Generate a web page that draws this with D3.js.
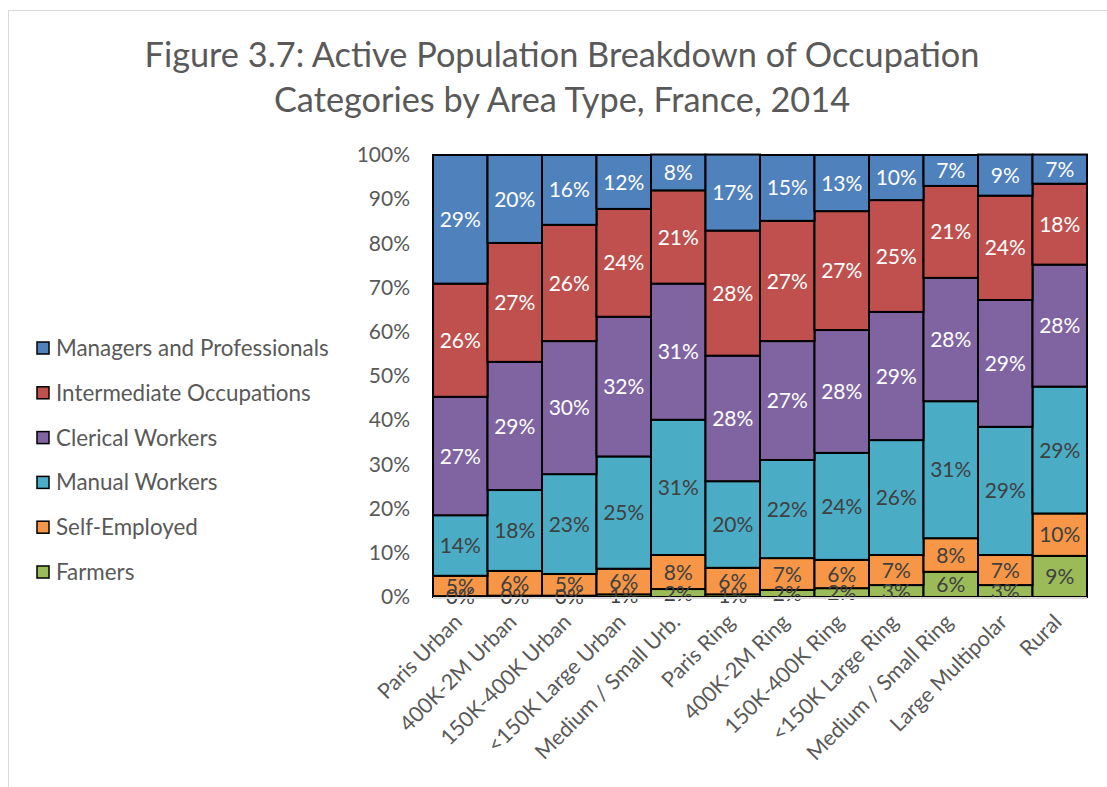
<!DOCTYPE html>
<html><head><meta charset="utf-8">
<script src="https://cdn.jsdelivr.net/npm/d3@7"></script>
<style>body{margin:0;background:#fff}svg{display:block}text{font-family:Lato,"Open Sans",sans-serif}</style>
</head><body><svg id="c" width="1107" height="787"></svg>
<script>
const categories = ["Paris Urban","400K-2M Urban","150K-400K Urban","<150K Large Urban","Medium / Small Urb.","Paris Ring","400K-2M Ring","150K-400K Ring","<150K Large Ring","Medium / Small Ring","Large Multipolar","Rural"];
const seriesNames = ["Farmers","Self-Employed","Manual Workers","Clerical Workers","Intermediate Occupations","Managers and Professionals"];
const farmers      = [0.2, 0.3, 0.3, 0.6, 1.8, 0.6, 1.6, 2.0, 2.7, 5.7, 2.7, 9.3];
const selfEmployed = [4.6, 5.6, 4.9, 5.8, 7.7, 6.0, 7.2, 6.4, 6.8, 7.6, 6.8, 9.6];
const manual       = [13.7, 18.3, 22.6, 25.4, 30.6, 19.6, 22.2, 24.2, 26.0, 31.0, 29.0, 28.7];
const clerical     = [26.8, 29.0, 30.1, 31.6, 30.8, 28.4, 26.9, 27.8, 29.0, 27.9, 28.7, 27.6];
const intermediate = [25.6, 26.9, 26.3, 24.4, 21.1, 28.3, 27.2, 26.9, 25.3, 20.8, 23.6, 18.3];
const managers     = [29.1, 19.9, 15.8, 12.2, 8.1, 17.2, 14.9, 12.7, 10.2, 7.0, 9.3, 6.6];
const yTicks = [0,10,20,30,40,50,60,70,80,90,100];
const titleLines = ["Figure 3.7: Active Population Breakdown of Occupation","Categories by Area Type, France, 2014"];

const colors = ["#9BBB59","#F79646","#4BACC6","#8064A2","#C0504D","#4F81BD"];
const labelColors = ["#404040","#404040","#404040","#fff","#fff","#fff"];
const seriesVals = [farmers, selfEmployed, manual, clerical, intermediate, managers];

const rows = categories.map((c,i)=>{const o={cat:c}; seriesNames.forEach((s,j)=>o[s]=seriesVals[j][i]); return o;});
const stack = d3.stack().keys(seriesNames)(rows);

const svg = d3.select("#c");
svg.append("rect").attr("x",8.5).attr("y",10.5).attr("width",1120).attr("height",800).attr("fill","none").attr("stroke","#d9d9d9");

const L=433, R=1087, T=155, B=597;
const x = d3.scaleBand().domain(categories).range([L,R]).padding(0);
const y = d3.scaleLinear().domain([0,100]).range([B,T]);

// title
svg.append("g").selectAll("text").data(titleLines).join("text")
  .attr("x",562).attr("y",(d,i)=>67+i*45).attr("text-anchor","middle")
  .attr("fill","#595959").attr("font-size",34.3).text(d=>d);

// y axis
const ya = svg.append("g").attr("transform",`translate(${L},0)`)
  .call(d3.axisLeft(y).tickValues(yTicks).tickFormat(d=>d+"%").tickSize(0).tickPadding(23));
ya.select(".domain").remove();
ya.selectAll("text").attr("fill","#595959").attr("font-size",21).attr("font-family","Lato");

// bars
const g = svg.append("g");
stack.forEach((layer,j)=>{
  g.append("g").selectAll("rect").data(layer).join("rect")
    .attr("x",d=>x(d.data.cat)).attr("width",x.bandwidth())
    .attr("y",d=>y(d[1])).attr("height",d=>y(d[0])-y(d[1]))
    .attr("fill",colors[j]).attr("stroke","#000").attr("stroke-width",2);
});
// x axis line
svg.append("line").attr("x1",L).attr("x2",R).attr("y1",B+1).attr("y2",B+1).attr("stroke","#d9d9d9").attr("stroke-width",2);

// labels
stack.forEach((layer,j)=>{
  const key = seriesNames[j];
  g.append("g").selectAll("text").data(layer).join("text")
    .attr("x",d=>x(d.data.cat)+x.bandwidth()/2)
    .attr("y",d=>(y(d[0])+y(d[1]))/2).attr("dy","0.36em")
    .attr("text-anchor","middle").attr("font-size",21)
    .attr("fill",labelColors[j]).text(d=>Math.round(d.data[key])+"%");
});

// x labels
svg.append("g").selectAll("text").data(categories).join("text")
  .attr("transform",d=>`translate(${x(d)+x.bandwidth()/2-2},${B+21}) rotate(-45)`)
  .attr("text-anchor","end").attr("dy","0.35em").attr("font-size",21.5)
  .attr("fill","#595959").text(d=>d);

// legend
const legendOrder = seriesNames.slice().reverse();
const lg = svg.append("g").selectAll("g").data(legendOrder).join("g")
  .attr("transform",(d,i)=>`translate(37,${348+i*44.8})`);
lg.append("rect").attr("x",0).attr("y",-6).attr("width",12).attr("height",12)
  .attr("fill",d=>colors[seriesNames.indexOf(d)]).attr("stroke","#000").attr("stroke-width",1.5);
lg.append("text").attr("x",19).attr("dy","0.36em").attr("font-size",22.4).attr("fill","#595959").text(d=>d);
</script></body></html>
